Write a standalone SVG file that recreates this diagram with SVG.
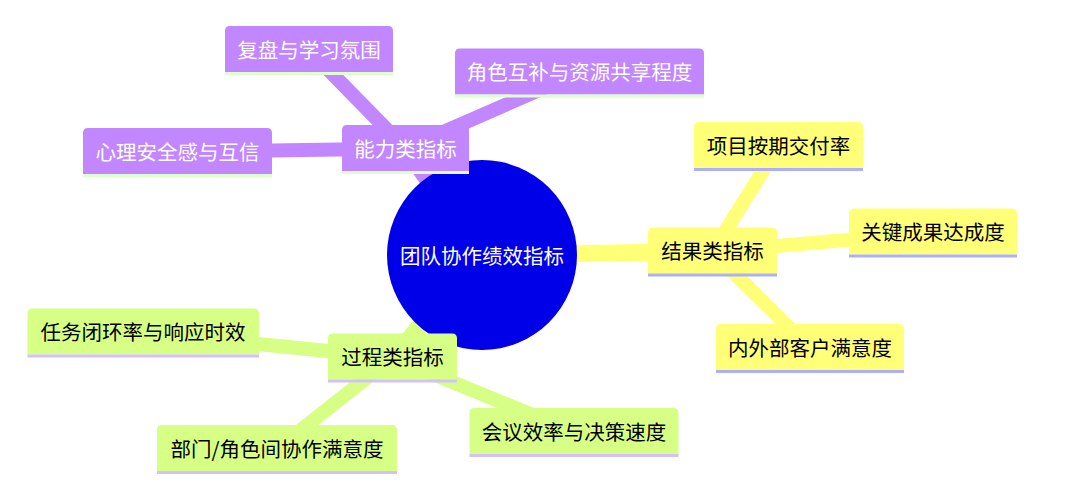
<svg xmlns="http://www.w3.org/2000/svg" width="1084" height="491" viewBox="0 0 1084 491">
<style>
text{font-family:"Noto Sans CJK SC","Noto Sans",sans-serif;font-size:20.5px;text-anchor:middle}
.e{fill:none;stroke-linecap:butt}
.d0{stroke-width:17}
.d1{stroke-width:14}
.ep{stroke:#c286ff}.ey{stroke:#ffff78}.eg{stroke:#d7ff86}
.np{fill:#c286ff}.ny{fill:#ffff78}.ng{fill:#d7ff86}
.lp{fill:#ddffcc}.ly{fill:#aeaeff}.lg{fill:#d4bfff}
.tw{fill:#ffffff}.tb{fill:#000000}
</style>
<rect width="1084" height="491" fill="#ffffff"/>
<g id="connectors">
<line class="e d0 ep" x1="482" y1="255" x2="405.5" y2="148.5"/>
<line class="e d0 ey" x1="482" y1="255" x2="712.5" y2="251.5"/>
<line class="e d0 eg" x1="482" y1="255" x2="392.5" y2="357.5"/>
<line class="e d1 ep" x1="405.5" y1="148.5" x2="309" y2="50"/>
<line class="e d1 ep" x1="405.5" y1="148.5" x2="177.5" y2="152"/>
<line class="e d1 ep" x1="405.5" y1="148.5" x2="579.5" y2="72.5"/>
<line class="e d1 ey" x1="712.5" y1="251.5" x2="778.5" y2="146"/>
<line class="e d1 ey" x1="712.5" y1="251.5" x2="933" y2="232.5"/>
<line class="e d1 ey" x1="712.5" y1="251.5" x2="810" y2="348"/>
<line class="e d1 eg" x1="392.5" y1="357.5" x2="143" y2="332.5"/>
<line class="e d1 eg" x1="392.5" y1="357.5" x2="277" y2="449"/>
<line class="e d1 eg" x1="392.5" y1="357.5" x2="574" y2="432"/>
</g>
<g id="root">
<circle cx="482" cy="255" r="95" fill="#0000e8"/>
<text class="tw" x="482" y="263.5">团队协作绩效指标</text>
</g>
<g id="n-ability">
<path class="np" d="M342 171V130Q342 125 347 125H464Q469 125 469 130V171Z"/>
<rect class="lp" x="342" y="171" width="127" height="3"/>
<text class="tw" x="405.5" y="156.5">能力类指标</text>
</g>
<g id="n-review">
<path class="np" d="M225 72V31Q225 26 230 26H388Q393 26 393 31V72Z"/>
<rect class="lp" x="225" y="72" width="168" height="3"/>
<text class="tw" x="309" y="57.5">复盘与学习氛围</text>
</g>
<g id="n-safety">
<path class="np" d="M83 174V133Q83 128 88 128H267Q272 128 272 133V174Z"/>
<rect class="lp" x="83" y="174" width="189" height="3"/>
<text class="tw" x="177.5" y="159.5">心理安全感与互信</text>
</g>
<g id="n-roles">
<path class="np" d="M455 94.5V53.5Q455 48.5 460 48.5H699Q704 48.5 704 53.5V94.5Z"/>
<rect class="lp" x="455" y="94.5" width="249" height="3"/>
<text class="tw" x="579.5" y="80">角色互补与资源共享程度</text>
</g>
<g id="n-result">
<path class="ny" d="M648 273.5V232.5Q648 227.5 653 227.5H772Q777 227.5 777 232.5V273.5Z"/>
<rect class="ly" x="648" y="273.5" width="129" height="3"/>
<text class="tb" x="712.5" y="259">结果类指标</text>
</g>
<g id="n-ontime">
<path class="ny" d="M694 168V127Q694 122 699 122H858Q863 122 863 127V168Z"/>
<rect class="ly" x="694" y="168" width="169" height="3"/>
<text class="tb" x="778.5" y="153.5">项目按期交付率</text>
</g>
<g id="n-okr">
<path class="ny" d="M849 254.5V213.5Q849 208.5 854 208.5H1012Q1017 208.5 1017 213.5V254.5Z"/>
<rect class="ly" x="849" y="254.5" width="168" height="3"/>
<text class="tb" x="933" y="240">关键成果达成度</text>
</g>
<g id="n-customer">
<path class="ny" d="M716 370V329Q716 324 721 324H899Q904 324 904 329V370Z"/>
<rect class="ly" x="716" y="370" width="188" height="3"/>
<text class="tb" x="810" y="355.5">内外部客户满意度</text>
</g>
<g id="n-process">
<path class="ng" d="M328 379.5V338.5Q328 333.5 333 333.5H452Q457 333.5 457 338.5V379.5Z"/>
<rect class="lg" x="328" y="379.5" width="129" height="3"/>
<text class="tb" x="392.5" y="365">过程类指标</text>
</g>
<g id="n-task">
<path class="ng" d="M27.5 354.5V313.5Q27.5 308.5 32.5 308.5H254Q259 308.5 259 313.5V354.5Z"/>
<rect class="lg" x="27.5" y="354.5" width="231.5" height="3"/>
<text class="tb" x="143" y="340">任务闭环率与响应时效</text>
</g>
<g id="n-dept">
<path class="ng" d="M157 471V430Q157 425 162 425H392Q397 425 397 430V471Z"/>
<rect class="lg" x="157" y="471" width="240" height="3"/>
<text class="tb" x="277" y="456.5">部门/角色间协作满意度</text>
</g>
<g id="n-meeting">
<path class="ng" d="M469.5 454V413Q469.5 408 474.5 408H673.5Q678.5 408 678.5 413V454Z"/>
<rect class="lg" x="469.5" y="454" width="209" height="3"/>
<text class="tb" x="574" y="439.5">会议效率与决策速度</text>
</g>
</svg>
